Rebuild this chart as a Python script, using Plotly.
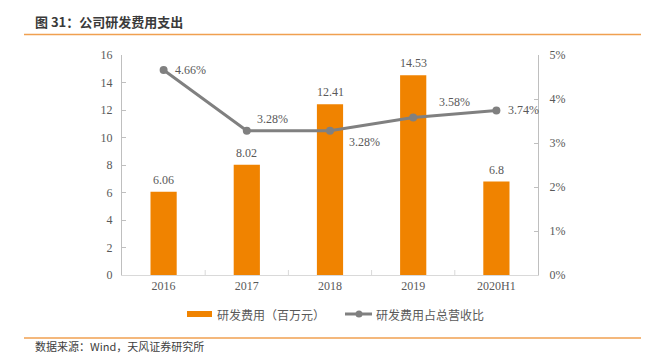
import plotly.graph_objects as go

categories = ["2016", "2017", "2018", "2019", "2020H1"]
rd_expense = [6.06, 8.02, 12.41, 14.53, 6.8]
rd_ratio = [0.0466, 0.0328, 0.0328, 0.0358, 0.0374]
bar_labels = ["6.06", "8.02", "12.41", "14.53", "6.8"]
ratio_labels = ["4.66%", "3.28%", "3.28%", "3.58%", "3.74%"]
left_ticks = [0, 2, 4, 6, 8, 10, 12, 14, 16]
right_ticks = [0, 0.01, 0.02, 0.03, 0.04, 0.05]
right_tick_text = ["0%", "1%", "2%", "3%", "4%", "5%"]

W, H = 658, 356
L, R, T, B = 122, 538, 55, 275
def px(x):
    return (x - L) / (R - L)
def py(y):
    return (B - y) / (B - T)

ORANGE = "#F08300"
GRAY = "#808080"
TXT = "#595959"
SERIF = "Liberation Serif, Times New Roman, serif"
SANS = "Noto Sans CJK SC, sans-serif"

idx = list(range(len(categories)))

fig = go.Figure()
fig.add_trace(go.Bar(x=idx, y=rd_expense, marker_color=ORANGE,
                     marker_line_width=0, yaxis="y", showlegend=False))
fig.add_trace(go.Scatter(x=idx, y=rd_ratio, yaxis="y2", mode="lines+markers",
                         line=dict(color=GRAY, width=3),
                         marker=dict(color=GRAY, size=8), showlegend=False))

ann = []
for i, v, t in zip(idx, rd_expense, bar_labels):
    ann.append(dict(x=i, y=v, xref="x", yref="y", text=t, showarrow=False,
                    yanchor="bottom", yshift=3, font=dict(family=SERIF, size=12, color=TXT)))
# line labels: (xanchor, xshift, yshift)
offsets = [("left", 9, 0), ("left", 8, 12), ("left", 17, -11), ("left", 24, 15), ("left", 10, 0)]
for i, v, t, (xa, xs, ys) in zip(idx, rd_ratio, ratio_labels, offsets):
    ann.append(dict(x=i, y=v, xref="x", yref="y2", text=t, showarrow=False,
                    xanchor=xa, xshift=xs, yshift=ys, yanchor="middle",
                    font=dict(family=SERIF, size=12, color=TXT)))

# title & source
ann.append(dict(x=px(33), y=py(21), xref="paper", yref="paper", text="<b>图 31：公司研发费用支出</b>",
                showarrow=False, xanchor="left", yanchor="middle",
                font=dict(family=SANS, size=13, color="#3a3a3a")))
ann.append(dict(x=px(33), y=py(356), xref="paper", yref="paper", text="数据来源：Wind，天风证券研究所",
                showarrow=False, xanchor="left", yanchor="bottom",
                font=dict(family=SANS, size=11, color="#404040")))
# legend texts
ann.append(dict(x=px(215), y=py(314), xref="paper", yref="paper", text="研发费用（百万元）",
                showarrow=False, xanchor="left", yanchor="middle",
                font=dict(family=SANS, size=12, color=TXT)))
ann.append(dict(x=px(374), y=py(314), xref="paper", yref="paper", text="研发费用占总营收比",
                showarrow=False, xanchor="left", yanchor="middle",
                font=dict(family=SANS, size=12, color=TXT)))

shapes = [
    dict(type="line", xref="paper", yref="paper", x0=px(24), x1=px(641), y0=py(34.5), y1=py(34.5),
         line=dict(color="#F0A050", width=1.5)),
    dict(type="line", xref="paper", yref="paper", x0=px(24), x1=px(641), y0=py(338), y1=py(338),
         line=dict(color="#F0A050", width=1.5)),
    dict(type="rect", xref="paper", yref="paper", x0=px(187), x1=px(212), y0=py(311), y1=py(317),
         fillcolor=ORANGE, line=dict(width=0)),
    dict(type="line", xref="paper", yref="paper", x0=px(345), x1=px(372), y0=py(314), y1=py(314),
         line=dict(color=GRAY, width=3)),
    dict(type="circle", xref="paper", yref="paper", x0=px(355.5), x1=px(362.5), y0=py(310.5), y1=py(317.5),
         fillcolor=GRAY, line=dict(width=0)),
]

# category boundary tick marks on the x axis
for b in [i + 0.5 for i in idx[:-1]]:
    shapes.append(dict(type="line", xref="x", yref="paper", x0=b, x1=b, y0=0, y1=5 / (B - T),
                       line=dict(color="#d9d9d9", width=1)))

fig.update_layout(
    width=W, height=H, margin=dict(l=L, r=W - R, t=T, b=H - B),
    paper_bgcolor="white", plot_bgcolor="white", bargap=0.685,
    annotations=ann, shapes=shapes, showlegend=False,
    xaxis=dict(range=[-0.5, 4.5], tickvals=idx, ticktext=categories, showline=True,
               linecolor="#d9d9d9", linewidth=1, ticks="", automargin=False, tickangle=0,
               tickfont=dict(family=SERIF, size=12, color=TXT), showgrid=False, zeroline=False),
    yaxis=dict(range=[0, 16], tickvals=left_ticks, showline=True, linecolor="#bfbfbf",
               ticks="inside", ticklen=4, tickcolor="#bfbfbf", showgrid=False, zeroline=False,
               automargin=False,
               tickfont=dict(family=SERIF, size=12, color=TXT), ticklabelstandoff=6),
    yaxis2=dict(range=[0, 0.05], tickvals=right_ticks, ticktext=right_tick_text, overlaying="y",
                side="right", showline=True, linecolor="#bfbfbf", ticks="inside", ticklen=4,
                tickcolor="#bfbfbf", showgrid=False, zeroline=False, automargin=False,
                tickfont=dict(family=SERIF, size=12, color=TXT), ticklabelstandoff=8),
)
fig.write_html("out.html", config={"displayModeBar": False},
               post_script="document.body.style.margin='0';document.body.style.overflow='hidden';")
